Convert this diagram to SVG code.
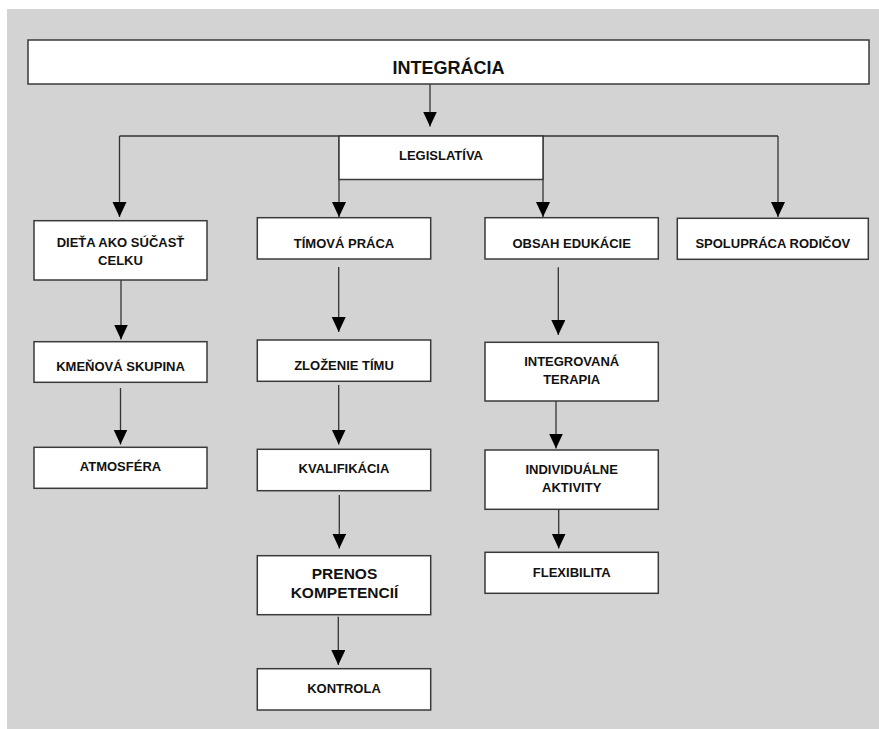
<svg xmlns="http://www.w3.org/2000/svg" width="879" height="729" viewBox="0 0 879 729">
<style>
.box{fill:#fff;stroke:#3a3a3a;stroke-width:1.5}
.t{font-family:"Liberation Sans",Arial,sans-serif;font-weight:bold;font-size:13px;fill:#111;text-anchor:middle}
.big{font-size:18px}
.mid{font-size:15.5px}
.c{fill:none;stroke:#333;stroke-width:1.3;marker-end:url(#arr)}
.cn{fill:none;stroke:#333;stroke-width:1.3}
</style>
<defs>
<marker id="arr" markerUnits="userSpaceOnUse" markerWidth="15" markerHeight="15" refX="15" refY="7" orient="auto">
<path d="M0,0 L15,7 L0,14 z" fill="#000"/>
</marker>
</defs>
<rect x="7" y="9" width="872" height="720" fill="#d3d3d3"/>
<g id="connectors">
<path class="c" d="M430,84 V126.5"/>
<path class="cn" d="M119.5,136 H778"/>
<path class="c" d="M119.5,136 V217"/>
<path class="c" d="M339,136 V217"/>
<path class="c" d="M543,136 V217"/>
<path class="c" d="M778,136 V217"/>
<path class="c" d="M121,280 V339.5"/>
<path class="c" d="M120.5,388 V444.5"/>
<path class="c" d="M338.7,267 V332"/>
<path class="c" d="M338.7,385 V444.5"/>
<path class="c" d="M339.3,495 V548.5"/>
<path class="c" d="M338.3,616.7 V665"/>
<path class="c" d="M558.3,267.3 V335"/>
<path class="c" d="M556,401 V448.5"/>
<path class="c" d="M558.7,509.3 V548.5"/>
</g>
<g id="integracia"><rect class="box" x="28" y="40" width="841" height="44"/><text class="t big" x="448.5" y="73.5">INTEGRÁCIA</text></g>
<g id="legislativa"><rect class="box" x="339" y="136" width="204" height="43.5"/><text class="t" x="441" y="159.5">LEGISLATÍVA</text></g>
<g id="dieta"><rect class="box" x="34" y="220.7" width="173" height="59.3"/><text class="t" x="120.5" y="246.5">DIEŤA AKO SÚČASŤ</text><text class="t" x="120.5" y="264.5">CELKU</text></g>
<g id="kmenova"><rect class="box" x="34" y="341.7" width="173" height="40.6"/><text class="t" x="120.5" y="370.5">KMEŇOVÁ SKUPINA</text></g>
<g id="atmosfera"><rect class="box" x="34" y="447.3" width="173" height="41"/><text class="t" x="120.5" y="470.5">ATMOSFÉRA</text></g>
<g id="timova"><rect class="box" x="257.3" y="217.7" width="173.4" height="41.3"/><text class="t" x="344" y="247.5">TÍMOVÁ PRÁCA</text></g>
<g id="zlozenie"><rect class="box" x="257.3" y="340" width="173.4" height="41.3"/><text class="t" x="344" y="370">ZLOŽENIE TÍMU</text></g>
<g id="kvalifikacia"><rect class="box" x="257.3" y="449.3" width="173.4" height="41.4"/><text class="t" x="344" y="473.3">KVALIFIKÁCIA</text></g>
<g id="prenos"><rect class="box" x="257.3" y="555.7" width="173.4" height="59"/><text class="t mid" x="344.5" y="579.3">PRENOS</text><text class="t mid" x="344.5" y="598.3">KOMPETENCIÍ</text></g>
<g id="kontrola"><rect class="box" x="257.3" y="668.7" width="173.4" height="41.3"/><text class="t" x="344" y="693.3">KONTROLA</text></g>
<g id="obsah"><rect class="box" x="485" y="217.7" width="173.3" height="41.3"/><text class="t" x="571.7" y="247.5">OBSAH EDUKÁCIE</text></g>
<g id="integrovana"><rect class="box" x="485" y="342.3" width="173.3" height="58.7"/><text class="t" x="571.7" y="365.7">INTEGROVANÁ</text><text class="t" x="571.7" y="384.3">TERAPIA</text></g>
<g id="individualne"><rect class="box" x="485" y="450" width="173.3" height="59.3"/><text class="t" x="571.7" y="474.3">INDIVIDUÁLNE</text><text class="t" x="571.7" y="492.3">AKTIVITY</text></g>
<g id="flexibilita"><rect class="box" x="485" y="552.3" width="173.3" height="41"/><text class="t" x="571.7" y="577.3">FLEXIBILITA</text></g>
<g id="spolupraca"><rect class="box" x="677.3" y="218.3" width="191" height="41"/><text class="t" x="772.8" y="247.5">SPOLUPRÁCA RODIČOV</text></g>
</svg>
